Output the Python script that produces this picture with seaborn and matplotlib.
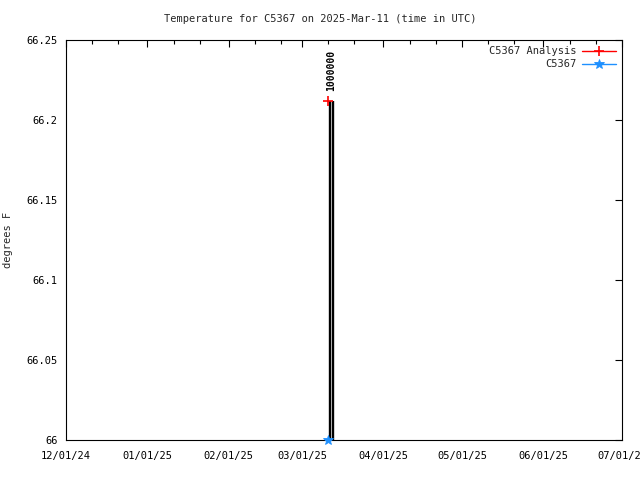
import matplotlib
matplotlib.use("Agg")
import matplotlib.pyplot as plt
import matplotlib.dates as mdates
import seaborn as sns
import pandas as pd
import numpy as np

# ---- data ----
title = "Temperature for C5367 on 2025-Mar-11 (time in UTC)"
ylabel = "degrees F"
analysis_times = ["2025-03-11 00:00"]
analysis_values = [66.212]
station_times = ["2025-03-11 00:00"]
station_values = [66.0]
bar_times = ["2025-03-11 12:00", "2025-03-12 18:00"]
bar_values = [66.212, 66.212]
bar_label = "1000000"
x_start, x_end = "2024-12-01", "2025-07-01"
y_ticks = [66.0, 66.05, 66.1, 66.15, 66.2, 66.25]
y_tick_labels = ["66", "66.05", "66.1", "66.15", "66.2", "66.25"]

sns.set_style("white")
plt.rcParams["font.family"] = ["DejaVu Sans Mono"]
plt.rcParams["font.size"] = 7.5

fig = plt.figure(figsize=(6.4, 4.8), dpi=100)
ax = fig.add_axes([66/640, 40/480, (622-66)/640, 400/480])

df_a = pd.DataFrame({"t": pd.to_datetime(analysis_times), "v": analysis_values})
df_s = pd.DataFrame({"t": pd.to_datetime(station_times), "v": station_values})
df_b = pd.DataFrame({"t": pd.to_datetime(bar_times), "v": bar_values})

ax.vlines(df_b["t"], y_ticks[0], df_b["v"], colors="black", linewidth=1.7, zorder=2)
ax.text(df_b["t"].mean(), max(bar_values) + 0.006, bar_label, rotation=90,
        ha="center", va="bottom", fontsize=7, fontweight="bold", color="black")

sns.lineplot(data=df_a, x="t", y="v", ax=ax, color="red", marker="+",
             markersize=7, markeredgewidth=1.2, markeredgecolor="red",
             linewidth=1, label="C5367 Analysis", zorder=3)
sns.lineplot(data=df_s, x="t", y="v", ax=ax, color="#1e90ff", marker="*",
             markersize=7, markeredgewidth=0.6, markeredgecolor="#1e90ff",
             linewidth=1, label="C5367", zorder=3, clip_on=False)

ax.set_xlim(pd.Timestamp(x_start), pd.Timestamp(x_end))
ax.set_ylim(y_ticks[0], y_ticks[-1])
ax.set_yticks(y_ticks)
ax.set_yticklabels(y_tick_labels)
ax.xaxis.set_major_locator(mdates.MonthLocator())
ax.xaxis.set_major_formatter(mdates.DateFormatter("%m/%d/%y"))
ax.xaxis.set_minor_locator(mdates.DayLocator(bymonthday=[11, 21]))
ax.tick_params(axis="both", which="both", direction="in", top=True, right=True,
               labelsize=7.5, colors="black")
ax.tick_params(axis="x", which="major", pad=8)
ax.tick_params(axis="y", which="major", pad=6)
ax.tick_params(which="major", length=5, width=0.8)
ax.tick_params(which="minor", length=3, width=0.8)
for s in ax.spines.values():
    s.set_color("black")
    s.set_linewidth(0.8)

ax.set_xlabel("")
ax.set_ylabel(ylabel, fontsize=7.5, labelpad=10)
fig.text(0.5, 1 - 19/480, title, ha="center", va="center", fontsize=7.5)

leg = ax.legend(loc="upper right", frameon=False, fontsize=7.5, markerfirst=False,
                handlelength=3.2, borderaxespad=0.2, labelspacing=0.3,
                handletextpad=0.6)

fig.savefig("out.png", dpi=100)
